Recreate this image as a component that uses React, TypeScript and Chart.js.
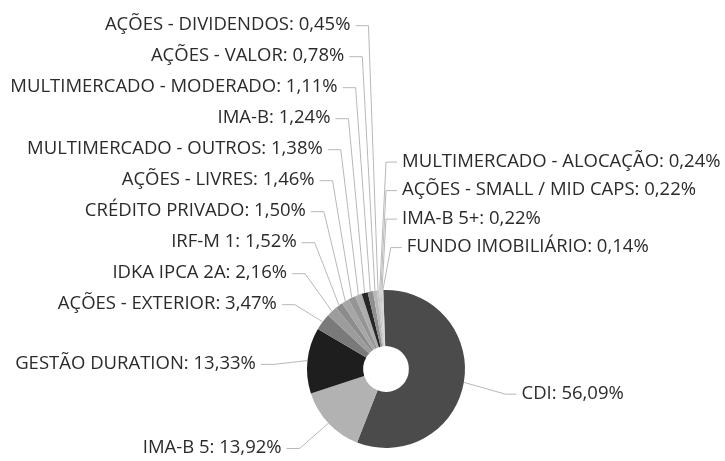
import React, { useEffect, useRef } from "react";
import { Chart, registerables } from "chart.js";

Chart.register(...registerables);

// ---- data ----
const categories = [
  "CDI",
  "IMA-B 5",
  "GESTÃO DURATION",
  "AÇÕES - EXTERIOR",
  "IDKA IPCA 2A",
  "IRF-M 1",
  "CRÉDITO PRIVADO",
  "AÇÕES - LIVRES",
  "MULTIMERCADO - OUTROS",
  "IMA-B",
  "MULTIMERCADO - MODERADO",
  "AÇÕES - VALOR",
  "AÇÕES - DIVIDENDOS",
  "MULTIMERCADO - ALOCAÇÃO",
  "AÇÕES - SMALL / MID CAPS",
  "IMA-B 5+",
  "FUNDO IMOBILIÁRIO",
];
const shares = [
  56.09, 13.92, 13.33, 3.47, 2.16, 1.52, 1.5, 1.46, 1.38, 1.24, 1.11, 0.78,
  0.45, 0.24, 0.22, 0.22, 0.14,
];
const sliceColors = [
  "#4b4b4b",
  "#b2b2b2",
  "#1e1e1e",
  "#7a7a7a",
  "#9c9c9c",
  "#8c8c8c",
  "#a6a6a6",
  "#959595",
  "#adadad",
  "#262626",
  "#8f8f8f",
  "#b8b8b8",
  "#c4c4c4",
  "#cfcfcf",
  "#bdbdbd",
  "#d6d6d6",
  "#c8c8c8",
];

const formatShare = (v: number) => v.toFixed(2).replace(".", ",") + "%";

const FONT = '18.5px "Open Sans", "Noto Sans", sans-serif';

const labelPlugin = {
  id: "pieLabels",
  afterDatasetsDraw(chart: any) {
    const ctx: CanvasRenderingContext2D = chart.ctx;
    const meta = chart.getDatasetMeta(0);
    const arcs = meta.data as any[];
    if (!arcs.length) return;
    const cx = arcs[0].x;
    const cy = arcs[0].y;
    const R = arcs[0].outerRadius;
    const Rl = R + 43;
    const H = chart.height;
    const hL = 31;
    const hR = 28.5;
    const shiftL = 8;
    const topLimit = 12;
    const bottomLimit = H - 13;

    type Item = {
      i: number;
      phi: number;
      ax: number;
      ay: number;
      ty: number;
      y: number;
      side: "L" | "R";
      text: string;
    };
    const items: Item[] = arcs.map((a: any, i: number) => {
      const mid = (a.startAngle + a.endAngle) / 2;
      let phi = mid + Math.PI / 2;
      while (phi < 0) phi += Math.PI * 2;
      while (phi >= Math.PI * 2) phi -= Math.PI * 2;
      return {
        i,
        phi,
        ax: cx + R * Math.cos(mid),
        ay: cy + R * Math.sin(mid),
        ty: cy + Rl * Math.sin(mid),
        y: 0,
        side: phi < Math.PI ? "R" : "L",
        text: `${categories[i]}: ${formatShare(shares[i])}`,
      } as Item;
    });

    // left side: upper half stacks upward, lower half stacks downward
    const left = items.filter((it) => it.side === "L");
    const leftUpper = left
      .filter((it) => it.phi >= 1.5 * Math.PI)
      .sort((a, b) => a.phi - b.phi);
    const leftLower = left
      .filter((it) => it.phi < 1.5 * Math.PI)
      .sort((a, b) => b.phi - a.phi);
    let prev = Infinity;
    let overflow = false;
    for (const it of leftUpper) {
      const y = Math.min(it.ty + shiftL, prev - hL);
      if (overflow || y < topLimit) {
        overflow = true;
        it.side = "R";
        it.phi -= Math.PI * 2;
        continue;
      }
      it.y = y;
      prev = y;
    }
    prev =
      leftUpper.length && leftUpper[0].side === "L" ? leftUpper[0].y : -Infinity;
    for (const it of leftLower) {
      it.y = Math.min(Math.max(it.ty + shiftL, prev + hL), bottomLimit);
      prev = it.y;
    }

    // right side
    const right = items.filter((it) => it.side === "R");
    const rightUpper = right
      .filter((it) => it.ty < cy)
      .sort((a, b) => b.phi - a.phi);
    const rightLower = right
      .filter((it) => it.ty >= cy)
      .sort((a, b) => a.phi - b.phi);
    prev = Infinity;
    for (const it of rightUpper) {
      it.y = Math.min(it.ty, prev - hR);
      prev = it.y;
    }
    prev = -Infinity;
    for (const it of rightLower) {
      it.y = Math.min(Math.max(it.ty + 4, prev + hR), bottomLimit);
      prev = it.y;
    }

    ctx.save();
    ctx.font = FONT;
    ctx.textBaseline = "middle";
    ctx.lineWidth = 1;
    ctx.strokeStyle = "#b8b8b8";
    for (const it of items) {
      const dy = Math.abs(it.y - cy);
      if (it.side === "L") {
        const off = 132 - 0.37 * dy + 0.00026 * dy * dy;
        const edge = cx - off;
        ctx.beginPath();
        ctx.moveTo(edge + 5, it.y + 0.5);
        ctx.lineTo(edge + 18, it.y + 0.5);
        ctx.lineTo(it.ax, it.ay);
        ctx.stroke();
        ctx.fillStyle = "#2b2b2b";
        ctx.textAlign = "right";
        ctx.fillText(it.text, edge, it.y);
      } else {
        const off = Math.sqrt(Math.max(0, Rl * Rl - dy * dy));
        const start = cx + off + 16;
        ctx.beginPath();
        ctx.moveTo(start - 5, it.y + 0.5);
        ctx.lineTo(start - 16, it.y + 0.5);
        ctx.lineTo(it.ax, it.ay);
        ctx.stroke();
        ctx.fillStyle = "#2b2b2b";
        ctx.textAlign = "left";
        ctx.fillText(it.text, start, it.y);
      }
    }
    ctx.restore();
  },
};

export default function App() {
  const canvasRef = useRef<HTMLCanvasElement | null>(null);

  useEffect(() => {
    const canvas = canvasRef.current;
    if (!canvas) return;
    const chart = new Chart(canvas, {
      type: "doughnut",
      data: {
        labels: categories,
        datasets: [
          {
            data: shares,
            backgroundColor: sliceColors,
            borderWidth: 0,
          },
        ],
      },
      options: {
        animation: false,
        responsive: true,
        maintainAspectRatio: false,
        rotation: -2,
        cutout: "29%",
        layout: { padding: { left: 307, right: 260, top: 290, bottom: 13 } },
        plugins: {
          legend: { display: false },
          tooltip: { enabled: false },
        },
      },
      plugins: [labelPlugin],
    });
    return () => chart.destroy();
  }, []);

  return (
    <div
      style={{
        position: "fixed",
        left: 0,
        top: 0,
        width: 725,
        height: 461,
        background: "#ffffff",
      }}
    >
      <canvas ref={canvasRef} />
    </div>
  );
}
